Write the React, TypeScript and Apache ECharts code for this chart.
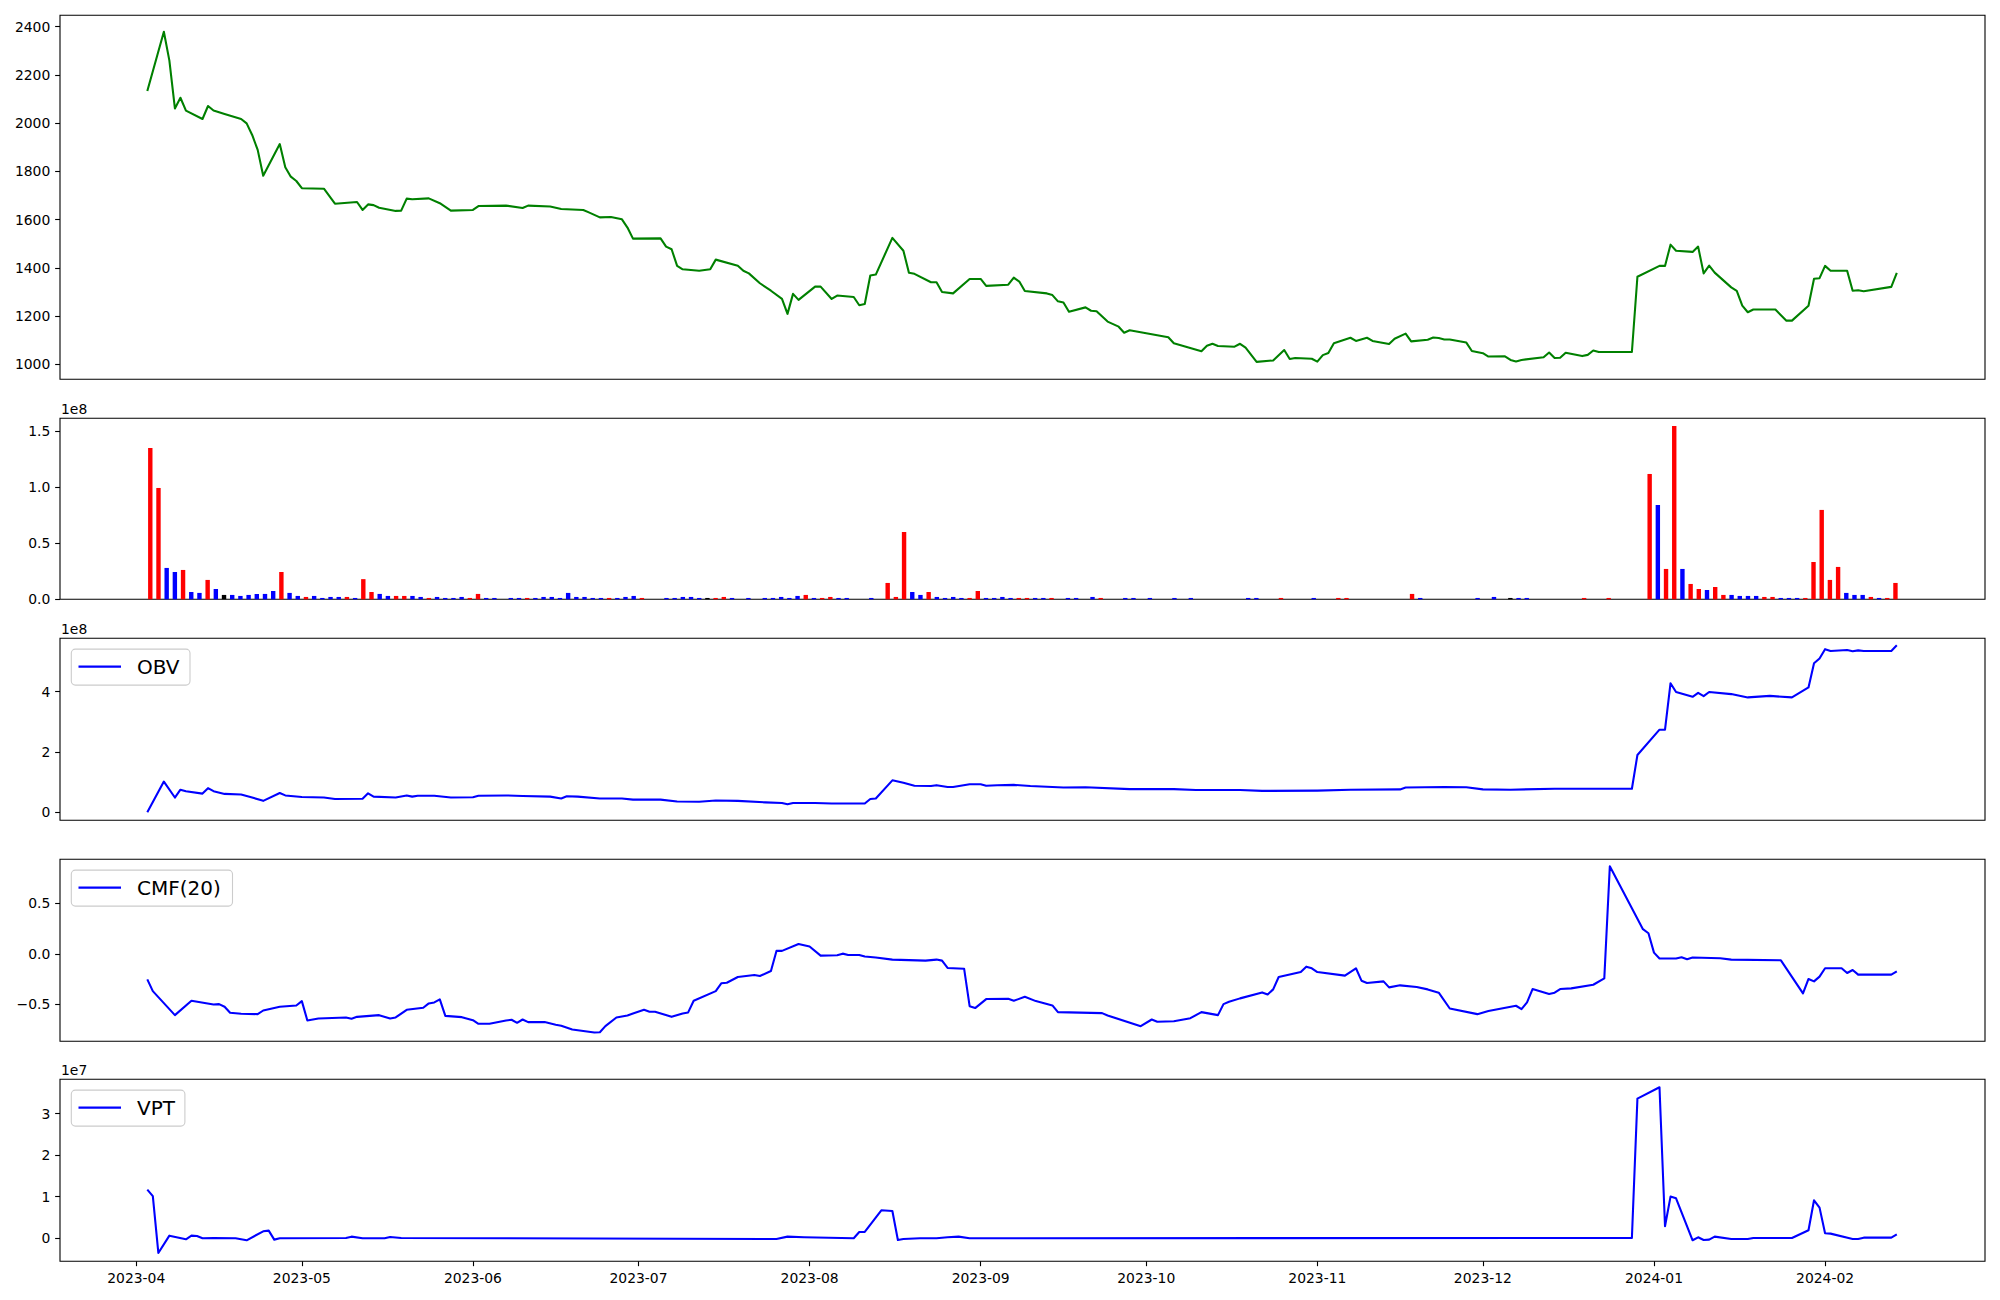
import React, { useEffect, useRef } from "react";
import * as echarts from "echarts";

// ---------- time base ----------
const START = new Date(2023, 3, 3).getTime(); // first sample: 2023-04-03
const DAY = 86400000;
const X_MIN_DAY = -15.82;
const X_MAX_DAY = 332.98;
const VOL_INDEX_MIN = -11.02;
const VOL_INDEX_MAX = 223.93;

// ---------- tick labels ----------
const monthLabels = [
  "2023-04", "2023-05", "2023-06", "2023-07", "2023-08", "2023-09",
  "2023-10", "2023-11", "2023-12", "2024-01", "2024-02",
];
const priceTicks = [1000, 1200, 1400, 1600, 1800, 2000, 2200, 2400];
const volumeTicks = [0, 0.5, 1.0, 1.5];
const obvTicks = [0, 2, 4];
const cmfTicks = [-0.5, 0, 0.5];
const vptTicks = [0, 1, 2, 3];

// ---------- price (day offset from 2023-04-03, close) ----------
const priceDays = [
  0, 3, 4, 5, 6, 7, 10, 11, 12, 14,
  17, 18, 19, 20, 21, 24, 25, 26, 27, 28,
  32, 34, 38, 39, 40, 41, 42, 45, 46, 47,
  48, 51, 53, 55, 59, 60, 65, 68, 69, 73,
  75, 79, 80, 82, 84, 86, 87, 88, 93, 94,
  95, 96, 97, 100, 102, 103, 107, 108, 109, 111,
  113, 115, 116, 117, 118, 121, 122, 124, 125, 128,
  129, 130, 131, 132, 135, 137, 138, 139, 142, 143,
  144, 146, 149, 151, 152, 156, 157, 158, 159, 163,
  164, 165, 166, 167, 170, 171, 172, 174, 176, 177,
  178, 185, 186, 191, 192, 193, 194, 197, 198, 199,
  201, 204, 206, 207, 208, 211, 212, 213, 214, 215,
  218, 219, 221, 222, 225, 226, 228, 229, 232, 233,
  234, 235, 236, 239, 240, 242, 243, 246, 247, 248,
  249, 253, 254, 255, 256, 257, 260, 261, 262, 263,
  269, 270, 274, 275, 276, 277, 280, 281, 282, 283,
  284, 287, 288, 289, 290, 291, 295, 297, 298, 301,
  302, 303, 304, 305, 308, 309, 310, 311, 316, 317,
];
const priceValues = [
  2133, 2379, 2259, 2061, 2105, 2052, 2017, 2071, 2052, 2038,
  2017, 1999, 1951, 1889, 1782, 1913, 1817, 1778, 1760, 1730,
  1728, 1666, 1673, 1640, 1663, 1660, 1649, 1636, 1637, 1687,
  1684, 1688, 1668, 1637, 1640, 1656, 1658, 1648, 1658, 1654,
  1644, 1640, 1630, 1609, 1611, 1601, 1567, 1521, 1522, 1488,
  1477, 1408, 1394, 1388, 1394, 1434, 1409, 1388, 1377, 1336,
  1305, 1271, 1209, 1292, 1267, 1322, 1322, 1271, 1285, 1279,
  1245, 1250, 1368, 1372, 1524, 1471, 1380, 1375, 1340, 1340,
  1300, 1294, 1354, 1354, 1325, 1330, 1359, 1343, 1304, 1294,
  1287, 1261, 1256, 1218, 1236, 1222, 1220, 1177, 1156, 1131,
  1141, 1112, 1087, 1054, 1077, 1085, 1076, 1073, 1085, 1069,
  1010, 1016, 1059, 1022, 1026, 1023, 1011, 1038, 1047, 1087,
  1110, 1097, 1110, 1097, 1084, 1106, 1127, 1095, 1102, 1111,
  1109, 1103, 1103, 1090, 1055, 1046, 1032, 1033, 1018, 1012,
  1018, 1029, 1049, 1026, 1027, 1048, 1034, 1039, 1057, 1051,
  1051, 1363, 1408, 1408, 1496, 1471, 1466, 1488, 1377, 1409,
  1380, 1319, 1304, 1243, 1216, 1227, 1227, 1181, 1181, 1243,
  1355, 1357, 1408, 1388, 1388, 1305, 1307, 1303, 1321, 1379,
];

// ---------- volume (x 1e8), one bar per sample index ----------
const volumeE8 = [
  1.351, 0.994, 0.280, 0.244, 0.262, 0.065, 0.057, 0.173, 0.092, 0.039,
  0.039, 0.030, 0.039, 0.048, 0.048, 0.074, 0.244, 0.057, 0.030, 0.021,
  0.030, 0.012, 0.021, 0.021, 0.021, 0.012, 0.180, 0.065, 0.048, 0.030,
  0.030, 0.030, 0.030, 0.021, 0.012, 0.021, 0.012, 0.012, 0.021, 0.012,
  0.048, 0.012, 0.012, 0, 0.012, 0.012, 0.012, 0.012, 0.021, 0.021,
  0.012, 0.057, 0.021, 0.021, 0.012, 0.012, 0.012, 0.012, 0.021, 0.030,
  0.012, 0, 0, 0.012, 0.012, 0.021, 0.021, 0.012, 0.012, 0.012,
  0.021, 0.012, 0, 0.012, 0, 0.012, 0.012, 0.021, 0.012, 0.030,
  0.039, 0.012, 0.012, 0.021, 0.012, 0.012, 0, 0, 0.012, 0,
  0.146, 0.021, 0.601, 0.065, 0.039, 0.065, 0.021, 0.012, 0.021, 0.012,
  0.012, 0.074, 0.012, 0.012, 0.021, 0.012, 0.012, 0.012, 0.012, 0.012,
  0.012, 0, 0.012, 0.012, 0, 0.021, 0.012, 0, 0, 0.012,
  0.012, 0, 0.012, 0, 0, 0.012, 0, 0.012, 0, 0,
  0, 0, 0, 0, 0.012, 0.012, 0, 0, 0.012, 0,
  0, 0, 0.012, 0, 0, 0.012, 0.012, 0, 0, 0,
  0, 0, 0, 0, 0.048, 0.012, 0, 0, 0, 0,
  0, 0, 0.012, 0, 0.021, 0, 0.012, 0.012, 0.012, 0,
  0, 0, 0, 0, 0, 0.012, 0, 0, 0.012, 0,
  0, 0, 0, 1.119, 0.842, 0.271, 1.548, 0.271, 0.137, 0.092,
  0.083, 0.110, 0.039, 0.039, 0.030, 0.030, 0.030, 0.021, 0.021, 0.012,
  0.012, 0.012, 0.012, 0.333, 0.798, 0.173, 0.289, 0.057, 0.039, 0.039,
  0.021, 0.012, 0.012, 0.146,
];
// R = up (red), B = down (blue), K = unchanged (black)
const volumeDir = (
  "RRBBRBBRBK" + "BBBBBBRBBR" + "BBBBRBRRBB" + "RRBBRBBBBR" + "RBBBBBRBBB" +
  "BBBBBBRBBB" + "RBBBBBBBKR" + "RBBBBBBBBB" + "RBRRBBBBBB" + "RRRBBRBBBB" +
  "RRBBBBRRBB" + "RBBBBBRBBB" + "BBBBBBBBBB" + "BBBBBBBBRB" + "BBBBBRRBBB" +
  "BBBBRBBBBB" + "BBBBBBKBBB" + "BBBBBRBBRB" + "BBBRBRRBRR" + "BRRBBBBRRB" +
  "BBRRRRRBBB" + "RBRR"
).split("");

// ---------- OBV (x 1e8) ----------
const obvDays = [
  0, 3, 5, 6, 7, 10, 11, 12, 14, 17,
  19, 21, 24, 25, 28, 32, 34, 39, 40, 41,
  45, 47, 48, 49, 52, 55, 59, 60, 65, 68,
  73, 75, 76, 78, 82, 86, 88, 93, 96, 100,
  103, 107, 112, 115, 116, 117, 121, 124, 130, 131,
  132, 135, 137, 139, 142, 143, 145, 146, 149, 151,
  152, 154, 157, 160, 166, 170, 178, 186, 190, 198,
  202, 212, 218, 227, 228, 235, 239, 242, 247, 255,
  269, 270, 274, 275, 276, 277, 280, 281, 282, 283,
  287, 290, 294, 298, 301, 302, 303, 304, 305, 308,
  309, 310, 311, 316, 317,
];
const obvE8 = [
  0, 1.02, 0.49, 0.75, 0.70, 0.62, 0.80, 0.70, 0.61, 0.59,
  0.49, 0.38, 0.64, 0.56, 0.51, 0.49, 0.44, 0.45, 0.63, 0.52,
  0.49, 0.56, 0.52, 0.55, 0.55, 0.49, 0.50, 0.55, 0.56, 0.54,
  0.52, 0.46, 0.53, 0.52, 0.46, 0.46, 0.42, 0.42, 0.36, 0.35,
  0.39, 0.38, 0.33, 0.31, 0.27, 0.31, 0.31, 0.29, 0.29, 0.44,
  0.46, 1.06, 0.98, 0.88, 0.87, 0.90, 0.84, 0.84, 0.93, 0.93,
  0.88, 0.90, 0.91, 0.87, 0.82, 0.83, 0.77, 0.77, 0.74, 0.74,
  0.71, 0.72, 0.75, 0.76, 0.82, 0.84, 0.83, 0.76, 0.75, 0.78,
  0.78, 1.90, 2.74, 2.74, 4.28, 3.99, 3.83, 3.96, 3.85, 3.99,
  3.92, 3.81, 3.86, 3.81, 4.14, 4.94, 5.10, 5.41, 5.35, 5.38,
  5.34, 5.37, 5.35, 5.35, 5.54,
];

// ---------- CMF(20) ----------
const cmfDays = [
  0, 1, 5, 8, 12, 13, 14, 15, 17, 20,
  21, 24, 27, 28, 29, 31, 36, 37, 38, 42,
  44, 45, 47, 50, 51, 52, 53, 54, 57, 59,
  60, 62, 65, 66, 67, 68, 69, 72, 74, 75,
  77, 81, 82, 83, 85, 87, 88, 90, 91, 92,
  95, 97, 98, 99, 103, 104, 105, 107, 110, 111,
  113, 114, 115, 118, 120, 122, 125, 126, 127, 129,
  130, 132, 135, 141, 143, 144, 145, 148, 149, 150,
  152, 156, 157, 159, 161, 164, 165, 173, 174, 180,
  182, 183, 186, 189, 191, 194, 195, 196, 198, 202,
  203, 204, 205, 209, 210, 211, 212, 217, 219, 220,
  221, 224, 225, 227, 230, 232, 234, 236, 241, 243,
  248, 249, 250, 251, 254, 255, 256, 258, 262, 264,
  265, 271, 272, 273, 274, 277, 278, 279, 280, 285,
  287, 296, 300, 301, 302, 303, 304, 307, 308, 309,
  310, 316, 317,
];
const cmfValues = [
  -0.252, -0.368, -0.606, -0.464, -0.500, -0.497, -0.523, -0.583, -0.593, -0.596,
  -0.560, -0.523, -0.510, -0.467, -0.659, -0.639, -0.629, -0.642, -0.623, -0.606,
  -0.639, -0.629, -0.553, -0.533, -0.490, -0.480, -0.450, -0.613, -0.626, -0.656,
  -0.692, -0.692, -0.659, -0.652, -0.682, -0.649, -0.675, -0.675, -0.702, -0.712,
  -0.748, -0.778, -0.775, -0.715, -0.629, -0.609, -0.589, -0.553, -0.573, -0.573,
  -0.623, -0.589, -0.579, -0.464, -0.368, -0.291, -0.285, -0.228, -0.209, -0.219,
  -0.169, 0.030, 0.030, 0.099, 0.073, -0.017, -0.013, 0.003, -0.010, -0.010,
  -0.026, -0.036, -0.056, -0.066, -0.056, -0.066, -0.139, -0.146, -0.517, -0.536,
  -0.447, -0.444, -0.464, -0.424, -0.467, -0.510, -0.576, -0.586, -0.609, -0.715,
  -0.649, -0.672, -0.666, -0.636, -0.576, -0.606, -0.497, -0.474, -0.440, -0.381,
  -0.401, -0.351, -0.228, -0.179, -0.126, -0.142, -0.179, -0.215, -0.142, -0.265,
  -0.288, -0.272, -0.331, -0.311, -0.328, -0.351, -0.384, -0.540, -0.596, -0.566,
  -0.513, -0.546, -0.480, -0.348, -0.397, -0.384, -0.348, -0.341, -0.305, -0.242,
  0.868, 0.245, 0.205, 0.013, -0.046, -0.046, -0.033, -0.053, -0.036, -0.043,
  -0.056, -0.063, -0.391, -0.248, -0.272, -0.225, -0.142, -0.142, -0.189, -0.159,
  -0.205, -0.205, -0.172,
];

// ---------- VPT (x 1e7) ----------
const vptDays = [
  0, 1, 2, 4, 7, 8, 9, 10, 12, 16,
  18, 21, 22, 23, 24, 36, 37, 39, 43, 44,
  46, 114, 116, 119, 128, 129, 130, 133, 135, 136,
  137, 140, 143, 145, 147, 149, 269, 270, 274, 275,
  276, 277, 280, 281, 282, 283, 284, 287, 290, 291,
  298, 301, 302, 303, 304, 305, 309, 310, 311, 316,
  317,
];
const vptE7 = [
  1.167, 1.01, -0.362, 0.056, -0.032, 0.056, 0.048, -0.008, 0, -0.008,
  -0.056, 0.161, 0.177, -0.04, -0.008, 0, 0.032, -0.008, -0.008, 0.024,
  0, -0.024, 0.032, 0.016, -0.008, 0.145, 0.145, 0.668, 0.652, -0.048,
  -0.024, -0.008, -0.008, 0.016, 0.032, -0.008, 0, 3.363, 3.636, 0.282,
  0.998, 0.957, -0.056, 0.016, -0.048, -0.04, 0.032, -0.024, -0.024, 0,
  0, 0.185, 0.909, 0.732, 0.113, 0.105, -0.024, -0.024, 0.008, 0.008,
  0.088,
];

// ---------- helpers ----------
const FONT = "DejaVu Sans";
const PT = 100 / 72; // matplotlib points -> px at 100 dpi
const LINE_W = 1.5 * PT;
const TICK_LEN = 3.5 * PT;
const TICK_W = 0.8 * PT;
const toTime = (d: number) => START + d * DAY;
const monthTime = (s: string) => {
  const [y, m] = s.split("-").map(Number);
  return new Date(y, m - 1, 1).getTime();
};
const pad2 = (n: number) => (n < 10 ? "0" + n : "" + n);
const minus = (s: string) => s.replace("-", "\u2212");

const grids = [
  { top: 15.3, height: 364 },
  { top: 418.3, height: 181 },
  { top: 638.3, height: 182 },
  { top: 859.3, height: 182 },
  { top: 1079.3, height: 182 },
];

const dirColor: Record<string, string> = { R: "#ff0000", B: "#0000ff", K: "#000000" };

function yAxis(gi: number, min: number, max: number, ticks: number[], fmt: (v: number) => string) {
  return {
    type: "value",
    gridIndex: gi,
    min,
    max,
    axisLine: { show: false, onZero: false },
    splitLine: { show: false },
    axisTick: {
      show: true,
      inside: false,
      length: TICK_LEN,
      lineStyle: { color: "#000", width: TICK_W },
      customValues: ticks,
    },
    axisLabel: {
      show: true,
      customValues: ticks,
      formatter: fmt,
      margin: 9.7,
      color: "#000",
      fontSize: 13.9,
      fontFamily: FONT,
    },
  };
}

function hiddenTimeAxis(gi: number) {
  return {
    type: "value",
    gridIndex: gi,
    min: toTime(X_MIN_DAY),
    max: toTime(X_MAX_DAY),
    show: false,
    axisLine: { show: false, onZero: false },
  };
}

function legendBox(top: number, width: number, label: string) {
  const boxTop = top + 10.8;
  const cy = boxTop + 17.5;
  return [
    {
      type: "rect",
      z: 100,
      shape: { x: 71.3, y: boxTop, width, height: 36, r: 4 },
      style: { fill: "#ffffff", stroke: "#cccccc", lineWidth: 1.1 },
    },
    {
      type: "line",
      z: 101,
      shape: { x1: 78.5, y1: cy, x2: 121, y2: cy },
      style: { stroke: "#0000ff", lineWidth: LINE_W },
    },
    {
      type: "text",
      z: 101,
      x: 137,
      y: cy,
      style: {
        text: label,
        fill: "#000",
        fontSize: 20,
        fontFamily: FONT,
        textAlign: "left",
        textVerticalAlign: "middle",
        align: "left",
        verticalAlign: "middle",
      },
    },
  ];
}

function offsetText(top: number, label: string) {
  return {
    type: "text",
    z: 100,
    x: 61,
    y: top - 9.5,
    style: {
      text: label,
      fill: "#000",
      fontSize: 13.9,
      fontFamily: FONT,
      textAlign: "left",
      textVerticalAlign: "middle",
      align: "left",
      verticalAlign: "middle",
    },
  };
}

const monthTimes = monthLabels.map(monthTime);

const lineSeries = (xi: number, days: number[], vals: number[], color: string) => ({
  type: "line",
  xAxisIndex: xi,
  yAxisIndex: xi,
  data: days.map((d, i) => [toTime(d), vals[i]]),
  showSymbol: false,
  symbol: "none",
  lineStyle: { color, width: LINE_W, join: "round" },
  itemStyle: { color },
  silent: true,
});

const option = {
  animation: false,
  backgroundColor: "#ffffff",
  grid: grids.map((g) => ({
    left: 60,
    width: 1925,
    top: g.top,
    height: g.height,
    show: true,
    borderColor: "#000",
    borderWidth: 1.1,
    backgroundColor: "transparent",
  })),
  xAxis: [
    hiddenTimeAxis(0),
    {
      type: "value",
      gridIndex: 1,
      min: VOL_INDEX_MIN,
      max: VOL_INDEX_MAX,
      show: false,
      axisLine: { show: false, onZero: false },
    },
    hiddenTimeAxis(2),
    hiddenTimeAxis(3),
    {
      type: "value",
      gridIndex: 4,
      min: toTime(X_MIN_DAY),
      max: toTime(X_MAX_DAY),
      axisLine: { show: false, onZero: false },
      splitLine: { show: false },
      axisTick: {
        show: true,
        inside: false,
        length: TICK_LEN,
        lineStyle: { color: "#000", width: TICK_W },
        customValues: monthTimes,
      },
      axisLabel: {
        show: true,
        customValues: monthTimes,
        formatter: (v: number) => {
          const d = new Date(v);
          return d.getFullYear() + "-" + pad2(d.getMonth() + 1);
        },
        margin: 9.7,
        color: "#000",
        fontSize: 13.9,
        fontFamily: FONT,
      },
    },
  ],
  yAxis: [
    yAxis(0, 937.8, 2447, priceTicks, (v) => String(v)),
    yAxis(1, 0, 1.616, volumeTicks, (v) => v.toFixed(1)),
    yAxis(2, -0.265, 5.77, obvTicks, (v) => String(v)),
    yAxis(3, -0.865, 0.937, cmfTicks, (v) => minus(v.toFixed(1))),
    yAxis(4, -0.563, 3.829, vptTicks, (v) => String(v)),
  ],
  series: [
    lineSeries(0, priceDays, priceValues, "#008000"),
    {
      type: "bar",
      xAxisIndex: 1,
      yAxisIndex: 1,
      barWidth: 4.4,
      data: volumeE8.map((v, i) => ({
        value: [i, v],
        itemStyle: { color: dirColor[volumeDir[i]] || "#0000ff" },
      })),
      silent: true,
    },
    lineSeries(2, obvDays, obvE8, "#0000ff"),
    lineSeries(3, cmfDays, cmfValues, "#0000ff"),
    lineSeries(4, vptDays, vptE7, "#0000ff"),
  ],
  graphic: [
    offsetText(grids[1].top, "1e8"),
    offsetText(grids[2].top, "1e8"),
    offsetText(grids[4].top, "1e7"),
    ...legendBox(grids[2].top, 118.7, "OBV"),
    ...legendBox(grids[3].top, 161.2, "CMF(20)"),
    ...legendBox(grids[4].top, 113.6, "VPT"),
  ],
};

export default function App() {
  const ref = useRef<HTMLDivElement>(null);
  useEffect(() => {
    document.body.style.margin = "0";
    if (!ref.current) return;
    const chart = echarts.init(ref.current, null, { renderer: "svg" });
    chart.setOption(option as any);
    return () => chart.dispose();
  }, []);
  return <div ref={ref} style={{ width: 2000, height: 1300, background: "#fff" }} />;
}
